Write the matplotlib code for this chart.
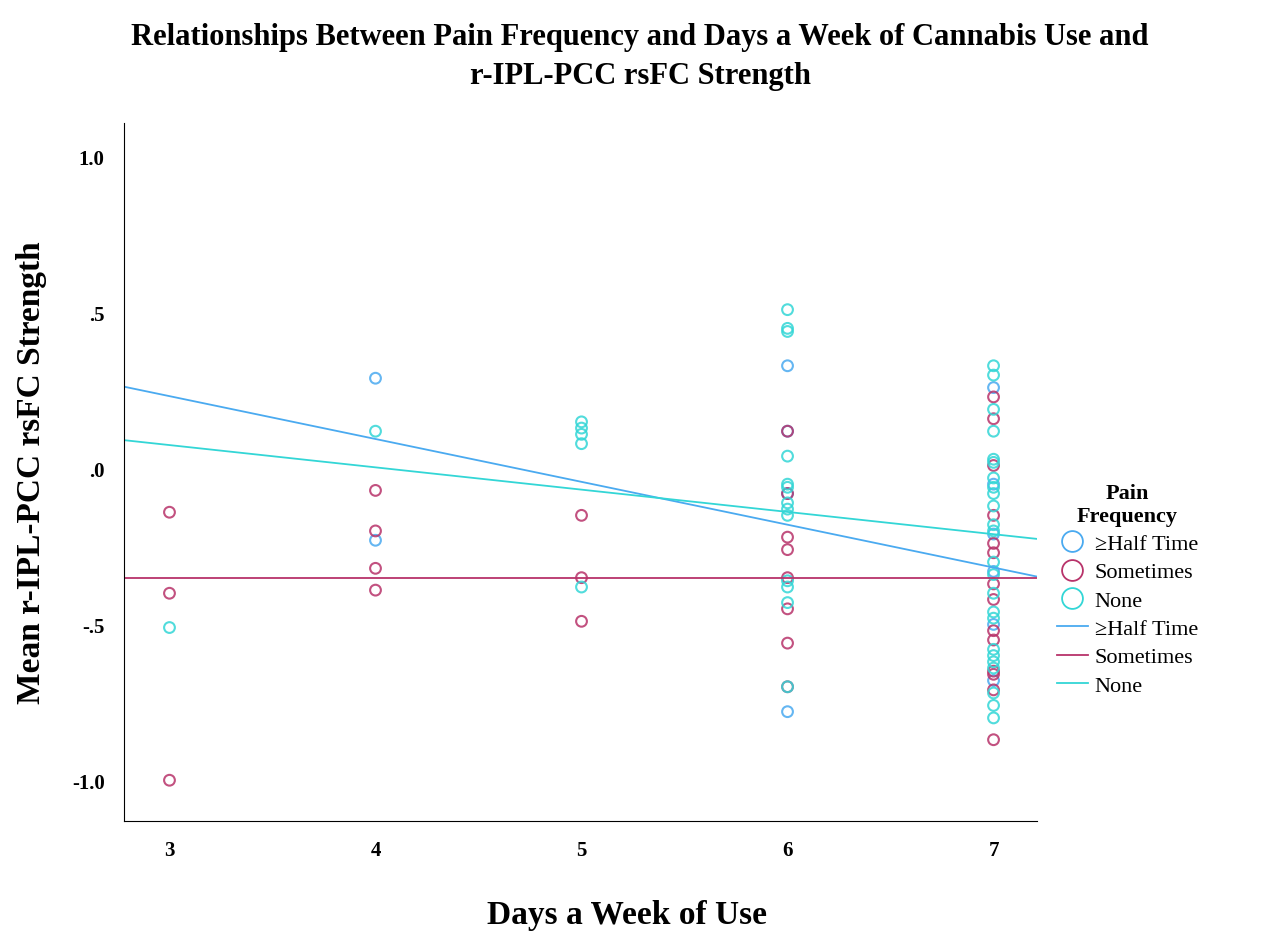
import numpy as np
import matplotlib.pyplot as plt
from matplotlib.lines import Line2D

plt.rcParams['font.family'] = ['Liberation Serif', 'DejaVu Serif']

BLUE = '#4aaaf0'
RED = '#b8336a'
CYAN = '#33d6d6'

groups = ['\u2265Half Time', 'Sometimes', 'None']
colors = [BLUE, RED, CYAN]

# (days, rsFC) per pain group
half_x = [4, 4, 6, 6, 6, 6, 7, 7, 7, 7, 7, 7]
half_y = [0.29, -0.23, 0.33, 0.12, -0.08, -0.78, 0.26, -0.05, -0.21, -0.33, -0.50, -0.68]

some_x = [3, 3, 3, 4, 4, 4, 4, 5, 5, 5, 6, 6, 6, 6, 6, 6, 6, 6,
          7, 7, 7, 7, 7, 7, 7, 7, 7, 7, 7, 7, 7, 7]
some_y = [-0.14, -0.40, -1.0, -0.07, -0.20, -0.32, -0.39, -0.15, -0.35, -0.49,
          0.12, -0.08, -0.22, -0.26, -0.35, -0.45, -0.56, -0.70,
          0.23, 0.16, 0.01, -0.15, -0.24, -0.27, -0.37, -0.42, -0.52, -0.55,
          -0.65, -0.66, -0.71, -0.87]

none_x = [3, 4, 5, 5, 5, 5, 5, 6, 6, 6, 6, 6, 6, 6, 6, 6, 6, 6, 6, 6,
          7, 7, 7, 7, 7, 7, 7, 7, 7, 7, 7, 7, 7, 7, 7, 7, 7, 7, 7, 7, 7, 7, 7, 7]
none_y = [-0.51, 0.12, 0.15, 0.13, 0.11, 0.08, -0.38,
          0.51, 0.45, 0.44, 0.04, -0.05, -0.06, -0.11, -0.13, -0.15, -0.38, -0.43, -0.70, -0.36,
          0.33, 0.30, 0.19, 0.12, 0.03, 0.02, -0.03, -0.06, -0.08, -0.12, -0.18, -0.20,
          -0.30, -0.34, -0.40, -0.46, -0.48, -0.58, -0.60, -0.62, -0.72, -0.76, -0.80, -0.64]

# fit lines: intercept at x=0, slope
line_int = [0.645, -0.35, 0.29]
line_slope = [-0.1375, 0.0, -0.0715]

fig = plt.figure(figsize=(12.8, 9.37), dpi=100)
ax = fig.add_axes([0.097, 0.123, 0.713, 0.745])

for (xs, ys), c in zip([(half_x, half_y), (some_x, some_y), (none_x, none_y)], colors):
    ax.scatter(xs, ys, s=60, facecolors='none', edgecolors=c, linewidths=1.5, alpha=0.85)

xl = np.array([2.78, 7.21])
for b, m, c in zip(line_int, line_slope, colors):
    ax.plot(xl, b + m * xl, color=c, lw=1.3)

ax.set_xlim(2.78, 7.21)
ax.set_ylim(-1.13, 1.11)
ax.set_xticks([3, 4, 5, 6, 7])
ax.set_yticks([-1.0, -0.5, 0.0, 0.5, 1.0])
ax.set_yticklabels(['-1.0', '-.5', '.0', '.5', '1.0'])
for lab in ax.get_xticklabels() + ax.get_yticklabels():
    lab.set_fontweight('bold')
    lab.set_fontsize(15)
ax.tick_params(length=0, pad=14)
ax.spines['top'].set_visible(False)
ax.spines['right'].set_visible(False)

fig.text(0.49, 0.023, 'Days a Week of Use', fontsize=24, fontweight='bold', ha='center', va='center')
ax.set_ylabel('Mean r-IPL-PCC rsFC Strength', fontsize=24, fontweight='bold', labelpad=18)
fig.text(0.5, 0.975, 'Relationships Between Pain Frequency and Days a Week of Cannabis Use and\nr-IPL-PCC rsFC Strength',
         fontsize=22, fontweight='bold', ha='center', va='top', linespacing=1.45)

handles = [Line2D([], [], marker='o', ls='none', markersize=15, markerfacecolor='none',
                  markeredgecolor=c, markeredgewidth=1.3) for c in colors]
handles += [Line2D([], [], color=c, lw=1.3) for c in colors]
leg = fig.legend(handles, groups + groups, loc='center left', bbox_to_anchor=(0.81, 0.37),
                 frameon=False, fontsize=16, title='Pain\nFrequency',
                 handlelength=1.4, handletextpad=0.3, labelspacing=0.35)
leg.get_title().set_fontweight('bold')
leg.get_title().set_fontsize(16)
leg.get_title().set_multialignment('center')

fig.savefig('out.png', dpi=100)
